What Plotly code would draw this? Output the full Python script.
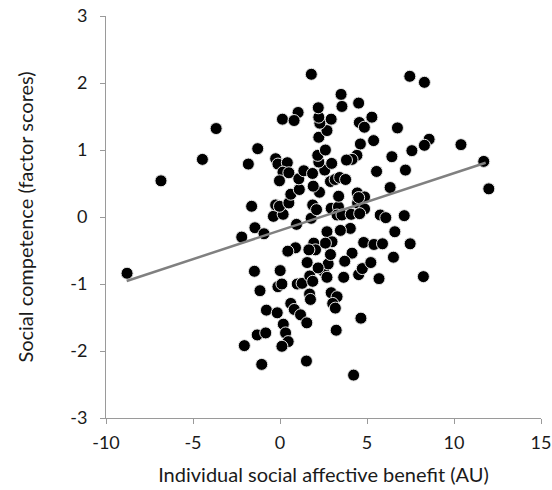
import plotly.graph_objects as go

# Individual social affective benefit (AU)
benefit = [
    -8.79, -6.84, -4.46, -3.67, -1.82, -1.28, 0.14, -1.63, -2.20, -1.44,
    -0.92, -1.47, -1.15, -0.78, -0.16, -1.31, -0.82, -2.05, -1.05, 0.01,
    -0.12, 0.11, 0.19, 0.32, 0.47, 0.11, 0.62, 0.82, 1.18, 1.54,
    1.52, 4.23, 0.99, 1.27, 1.71, 1.88, 1.70, 1.75, 2.51, 2.94,
    3.28, 3.03, 3.18, 3.23, 4.65, 3.66, 4.52, 4.73, 5.69, 8.24,
    2.70, 2.77, 2.19, 1.56, 2.90, 4.14, 3.72, 5.22, 6.52, 7.48,
    6.60, 4.81, 5.40, 5.89, 4.04, 3.47, 2.70, 2.99, 2.61, 1.94,
    2.04, 1.66, 0.89, 0.45, 0.95, 1.79, -0.38, 0.18, -0.25, -0.03,
    0.51, 1.88, 2.10, 2.94, 3.36, 3.28, 3.56, 4.46, 4.86, 4.09,
    4.58, 5.76, 6.08, 7.14,
    -0.25, -0.12, 0.42, 0.17, 0.51, -0.03, 0.62, 1.11, 1.08, 1.37,
    1.87, 2.57, 2.23, 2.97, 2.17, 2.61, 2.23, 2.70, 2.29, 2.23,
    2.20, 2.94, 1.80, 1.04, 0.81, 3.51, 3.56, 4.52, 4.56, 5.28,
    4.85, 6.75, 4.62, 5.38, 8.57, 8.30, 7.58, 6.43, 4.42, 4.14,
    3.82, 5.55, 7.21, 7.46, 8.30, 10.40, 11.71, 12.00, 2.90, 3.17,
    3.43, 3.77, 2.27, 1.91, 3.37, 4.44, 4.86, 4.52, 6.33,
]

# Social competence (factor scores)
competence = [
    -0.84, 0.54, 0.86, 1.32, 0.79, 1.02, 1.46, 0.16, -0.30, -0.16,
    -0.25, -0.81, -1.10, -1.39, -1.43, -1.76, -1.73, -1.92, -2.20, -0.80,
    -1.04, -1.00, -1.60, -1.73, -1.86, -1.93, -1.29, -1.38, -1.46, -1.58,
    -2.15, -2.36, -1.00, -0.99, -0.88, -0.96, -1.15, -1.23, -0.81, -1.13,
    -1.19, -1.29, -1.36, -1.69, -1.51, -0.90, -0.86, -0.77, -0.92, -0.89,
    -0.90, -0.70, -0.76, -0.68, -0.56, -0.54, -0.66, -0.68, -0.60, -0.40,
    -0.22, -0.38, -0.41, -0.40, -0.17, -0.20, -0.22, -0.37, -0.39, -0.39,
    -0.49, -0.49, -0.46, -0.51, -0.11, -0.02, 0.01, 0.04, 0.18, 0.16,
    0.21, 0.18, 0.11, 0.13, 0.15, 0.03, 0.03, 0.21, 0.12, 0.04,
    0.05, 0.03, -0.01, 0.02,
    0.87, 0.79, 0.81, 0.67, 0.66, 0.54, 0.34, 0.41, 0.57, 0.69,
    0.65, 0.70, 0.82, 0.80, 0.92, 1.00, 1.19, 1.29, 1.40, 1.49,
    1.63, 1.46, 2.13, 1.56, 1.44, 1.83, 1.65, 1.70, 1.41, 1.49,
    1.34, 1.33, 1.09, 1.14, 1.16, 1.07, 0.99, 0.90, 0.92, 0.86,
    0.85, 0.68, 0.70, 2.10, 2.01, 1.08, 0.83, 0.42, 0.53, 0.56,
    0.59, 0.56, 0.37, 0.46, 0.31, 0.36, 0.30, 0.29, 0.44,
]

# Linear trend line end points
trend_x = [-8.81, 11.82]
trend_y = [-0.955, 0.81]

x_ticks = [-10, -5, 0, 5, 10, 15]
x_tick_labels = ["-10", "-5", "0", "5", "10", "15"]
y_ticks = [-3, -2, -1, 0, 1, 2, 3]
y_tick_labels = ["-3", "-2", "-1", "0", "1", "2", "3"]

axis_color = "#9a9a9a"
font_family = "Lato, Carlito, 'Open Sans', sans-serif"

fig = go.Figure()
fig.add_trace(go.Scatter(
    x=benefit, y=competence, mode="markers",
    marker=dict(size=12, color="black", line=dict(width=1, color="#e6e6e6")),
    showlegend=False, hoverinfo="x+y",
))
fig.add_trace(go.Scatter(
    x=trend_x, y=trend_y, mode="lines",
    line=dict(color="#808080", width=2.5),
    showlegend=False, hoverinfo="skip",
))

fig.update_layout(
    width=552, height=490,
    margin=dict(l=106, r=11, t=16, b=72, autoexpand=False),
    paper_bgcolor="white", plot_bgcolor="white",
    font=dict(family=font_family, size=18, color="#1a1a1a"),
)
fig.update_xaxes(
    range=[-10, 15], tickvals=x_ticks, ticktext=x_tick_labels,
    showline=True, linecolor=axis_color, linewidth=1,
    ticks="outside", ticklen=5, tickcolor=axis_color, tickwidth=1,
    showgrid=False, zeroline=False, ticklabeloverflow="allow", automargin=False,
    tickfont=dict(size=18), ticklabelstandoff=3,
    title=dict(text="Individual social affective benefit (AU)", font=dict(size=20), standoff=16),
)
fig.update_yaxes(
    range=[-3, 3], tickvals=y_ticks, ticktext=y_tick_labels,
    showline=True, linecolor=axis_color, linewidth=1,
    ticks="outside", ticklen=5, tickcolor=axis_color, tickwidth=1,
    showgrid=False, zeroline=False, ticklabeloverflow="allow", automargin=False,
    tickfont=dict(size=18), ticklabelstandoff=9,
    title=dict(text="Social competence (factor scores)", font=dict(size=20), standoff=31),
)

fig.write_html("out.html")
